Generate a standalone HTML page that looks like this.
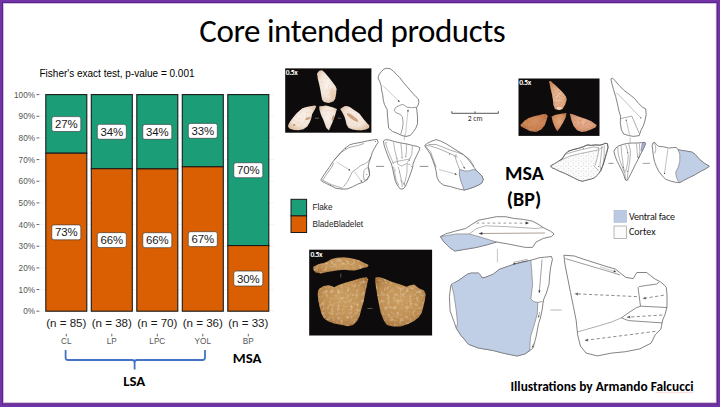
<!DOCTYPE html>
<html><head><meta charset="utf-8">
<style>
html,body{margin:0;padding:0;background:#fff;}
body{width:720px;height:407px;overflow:hidden;position:relative;}
svg{position:absolute;left:0;top:0;}
.ax{font-family:"Liberation Sans",Arial,sans-serif;font-size:8.2px;fill:#555;}
.lb{font-family:"Liberation Sans",Arial,sans-serif;font-size:11.4px;fill:#1a1a1a;}
.nn{font-family:"Liberation Sans",Arial,sans-serif;font-size:11.6px;fill:#1a1a1a;}
.lg{font-family:"Liberation Sans",Arial,sans-serif;font-size:8.2px;fill:#1a1a1a;}
.cal{font-family:Carlito,Calibri,"Liberation Sans",sans-serif;}
</style></head><body>
<svg width="720" height="407" viewBox="0 0 720 407">
<defs>
<radialGradient id="gA" cx="50%" cy="45%" r="60%">
<stop offset="0" stop-color="#FAF3EE"/><stop offset="0.65" stop-color="#F2E4D8"/><stop offset="1" stop-color="#DDBFA4"/>
</radialGradient>
<radialGradient id="gB" cx="50%" cy="45%" r="60%">
<stop offset="0" stop-color="#E8AC7E"/><stop offset="0.6" stop-color="#D88E60"/><stop offset="1" stop-color="#B4693E"/>
</radialGradient>
<radialGradient id="gC" cx="50%" cy="45%" r="65%">
<stop offset="0" stop-color="#CC9E60"/><stop offset="0.6" stop-color="#C08F52"/><stop offset="1" stop-color="#A06A32"/>
</radialGradient>
<radialGradient id="gB1" cx="50%" cy="55%" r="60%">
<stop offset="0" stop-color="#F0C6A4"/><stop offset="0.6" stop-color="#E4AA84"/><stop offset="1" stop-color="#C98458"/>
</radialGradient>
<radialGradient id="gB2" cx="50%" cy="45%" r="60%">
<stop offset="0" stop-color="#D88C58"/><stop offset="0.6" stop-color="#CB7C4A"/><stop offset="1" stop-color="#B0643A"/>
</radialGradient>
<radialGradient id="gB4" cx="50%" cy="45%" r="60%">
<stop offset="0" stop-color="#EDB394"/><stop offset="0.6" stop-color="#E2A080"/><stop offset="1" stop-color="#C88460"/>
</radialGradient>
<pattern id="stip" width="5" height="5" patternUnits="userSpaceOnUse">
<rect width="5" height="5" fill="#FBFBFB"/><circle cx="1" cy="1.2" r="0.42" fill="#999"/><circle cx="3.6" cy="3.4" r="0.38" fill="#a5a5a5"/><circle cx="3.2" cy="0.6" r="0.3" fill="#bbb"/>
</pattern>
<filter id="soft" x="-50%" y="-50%" width="200%" height="200%"><feGaussianBlur stdDeviation="0.7"/></filter>
<filter id="tex" x="0" y="0" width="100%" height="100%">
<feTurbulence type="fractalNoise" baseFrequency="0.32" numOctaves="3" seed="4" result="n"/>
<feColorMatrix in="n" type="matrix" values="0 0 0 0 0.84  0 0 0 0 0.69  0 0 0 0 0.45  1.3 0 0 0 -0.62" result="lt"/>
<feColorMatrix in="n" type="matrix" values="0 0 0 0 0.5  0 0 0 0 0.33  0 0 0 0 0.15  -1.3 0 0 0 0.6" result="dk"/>
<feMerge result="m"><feMergeNode in="lt"/><feMergeNode in="dk"/></feMerge>
<feGaussianBlur in="m" stdDeviation="0.35" result="mb"/>
<feComposite in="mb" in2="SourceGraphic" operator="in" result="spk2"/>
<feMerge><feMergeNode in="SourceGraphic"/><feMergeNode in="spk2"/></feMerge>
</filter>
<filter id="tex2" x="0" y="0" width="100%" height="100%">
<feTurbulence type="fractalNoise" baseFrequency="0.5" numOctaves="2" seed="7" result="n"/>
<feColorMatrix in="n" type="matrix" values="0 0 0 0 0.85  0 0 0 0 0.62  0 0 0 0 0.45  0 0 0 -2 1.05" result="spk"/>
<feComposite in="spk" in2="SourceGraphic" operator="in" result="spk2"/>
<feMerge><feMergeNode in="SourceGraphic"/><feMergeNode in="spk2"/></feMerge>
</filter>
<filter id="tex3" x="0" y="0" width="100%" height="100%">
<feTurbulence type="fractalNoise" baseFrequency="0.45" numOctaves="2" seed="11" result="n"/>
<feColorMatrix in="n" type="matrix" values="0 0 0 0 0.55  0 0 0 0 0.3  0 0 0 0 0.16  0 0 0 -2.2 1.3" result="spk"/>
<feComposite in="spk" in2="SourceGraphic" operator="in" result="spk2"/>
<feMerge><feMergeNode in="SourceGraphic"/><feMergeNode in="spk2"/></feMerge>
</filter>
</defs>

<rect x="0" y="0" width="720" height="407" fill="#7233A7"/>
<rect x="2" y="2" width="715.8" height="402.2" fill="#5C2386"/>
<rect x="3" y="3" width="713.6" height="400.2" fill="#C9B2DD"/>
<rect x="3.8" y="3.8" width="712" height="398.4" fill="#fff"/>
<text x="199.3" y="41.9" class="cal" font-size="33" letter-spacing="-0.45" fill="#000" textLength="305.97" lengthAdjust="spacingAndGlyphs">Core intended products</text>
<text x="39.5" y="76.6" font-family="Liberation Sans, Arial, sans-serif" font-size="10" fill="#000" textLength="155.05" lengthAdjust="spacingAndGlyphs">Fisher's exact test, p-value = 0.001</text>
<line x1="39.5" y1="311.20" x2="274" y2="311.20" stroke="#EDEDED" stroke-width="0.6"/>
<line x1="39.5" y1="289.54" x2="274" y2="289.54" stroke="#EDEDED" stroke-width="0.6"/>
<line x1="39.5" y1="267.88" x2="274" y2="267.88" stroke="#EDEDED" stroke-width="0.6"/>
<line x1="39.5" y1="246.22" x2="274" y2="246.22" stroke="#EDEDED" stroke-width="0.6"/>
<line x1="39.5" y1="224.56" x2="274" y2="224.56" stroke="#EDEDED" stroke-width="0.6"/>
<line x1="39.5" y1="202.90" x2="274" y2="202.90" stroke="#EDEDED" stroke-width="0.6"/>
<line x1="39.5" y1="181.24" x2="274" y2="181.24" stroke="#EDEDED" stroke-width="0.6"/>
<line x1="39.5" y1="159.58" x2="274" y2="159.58" stroke="#EDEDED" stroke-width="0.6"/>
<line x1="39.5" y1="137.92" x2="274" y2="137.92" stroke="#EDEDED" stroke-width="0.6"/>
<line x1="39.5" y1="116.26" x2="274" y2="116.26" stroke="#EDEDED" stroke-width="0.6"/>
<line x1="39.5" y1="94.60" x2="274" y2="94.60" stroke="#EDEDED" stroke-width="0.6"/>
<line x1="39.5" y1="300.37" x2="274" y2="300.37" stroke="#F5F5F5" stroke-width="0.4"/>
<line x1="39.5" y1="278.71" x2="274" y2="278.71" stroke="#F5F5F5" stroke-width="0.4"/>
<line x1="39.5" y1="257.05" x2="274" y2="257.05" stroke="#F5F5F5" stroke-width="0.4"/>
<line x1="39.5" y1="235.39" x2="274" y2="235.39" stroke="#F5F5F5" stroke-width="0.4"/>
<line x1="39.5" y1="213.73" x2="274" y2="213.73" stroke="#F5F5F5" stroke-width="0.4"/>
<line x1="39.5" y1="192.07" x2="274" y2="192.07" stroke="#F5F5F5" stroke-width="0.4"/>
<line x1="39.5" y1="170.41" x2="274" y2="170.41" stroke="#F5F5F5" stroke-width="0.4"/>
<line x1="39.5" y1="148.75" x2="274" y2="148.75" stroke="#F5F5F5" stroke-width="0.4"/>
<line x1="39.5" y1="127.09" x2="274" y2="127.09" stroke="#F5F5F5" stroke-width="0.4"/>
<line x1="39.5" y1="105.43" x2="274" y2="105.43" stroke="#F5F5F5" stroke-width="0.4"/>
<line x1="36.5" y1="311.20" x2="39.3" y2="311.20" stroke="#555" stroke-width="0.9"/>
<text x="35" y="314.20" text-anchor="end" class="ax" textLength="11.84" lengthAdjust="spacingAndGlyphs">0%</text>
<line x1="36.5" y1="289.54" x2="39.3" y2="289.54" stroke="#555" stroke-width="0.9"/>
<text x="35" y="292.54" text-anchor="end" class="ax" textLength="16.39" lengthAdjust="spacingAndGlyphs">10%</text>
<line x1="36.5" y1="267.88" x2="39.3" y2="267.88" stroke="#555" stroke-width="0.9"/>
<text x="35" y="270.88" text-anchor="end" class="ax" textLength="16.39" lengthAdjust="spacingAndGlyphs">20%</text>
<line x1="36.5" y1="246.22" x2="39.3" y2="246.22" stroke="#555" stroke-width="0.9"/>
<text x="35" y="249.22" text-anchor="end" class="ax" textLength="16.39" lengthAdjust="spacingAndGlyphs">30%</text>
<line x1="36.5" y1="224.56" x2="39.3" y2="224.56" stroke="#555" stroke-width="0.9"/>
<text x="35" y="227.56" text-anchor="end" class="ax" textLength="16.39" lengthAdjust="spacingAndGlyphs">40%</text>
<line x1="36.5" y1="202.90" x2="39.3" y2="202.90" stroke="#555" stroke-width="0.9"/>
<text x="35" y="205.90" text-anchor="end" class="ax" textLength="16.39" lengthAdjust="spacingAndGlyphs">50%</text>
<line x1="36.5" y1="181.24" x2="39.3" y2="181.24" stroke="#555" stroke-width="0.9"/>
<text x="35" y="184.24" text-anchor="end" class="ax" textLength="16.39" lengthAdjust="spacingAndGlyphs">60%</text>
<line x1="36.5" y1="159.58" x2="39.3" y2="159.58" stroke="#555" stroke-width="0.9"/>
<text x="35" y="162.58" text-anchor="end" class="ax" textLength="16.39" lengthAdjust="spacingAndGlyphs">70%</text>
<line x1="36.5" y1="137.92" x2="39.3" y2="137.92" stroke="#555" stroke-width="0.9"/>
<text x="35" y="140.92" text-anchor="end" class="ax" textLength="16.39" lengthAdjust="spacingAndGlyphs">80%</text>
<line x1="36.5" y1="116.26" x2="39.3" y2="116.26" stroke="#555" stroke-width="0.9"/>
<text x="35" y="119.26" text-anchor="end" class="ax" textLength="16.39" lengthAdjust="spacingAndGlyphs">90%</text>
<line x1="36.5" y1="94.60" x2="39.3" y2="94.60" stroke="#555" stroke-width="0.9"/>
<text x="35" y="97.60" text-anchor="end" class="ax" textLength="20.95" lengthAdjust="spacingAndGlyphs">100%</text>
<rect x="45.80" y="94.6" width="41" height="58.61" fill="#1B9E77" stroke="#1a1a1a" stroke-width="1.1"/>
<rect x="45.80" y="153.21" width="41" height="157.99" fill="#D95F02" stroke="#1a1a1a" stroke-width="1.1"/>
<rect x="51.80" y="116.60" width="29" height="14.9" rx="2.2" fill="#fff" stroke="#333" stroke-width="0.6"/>
<text x="66.30" y="128.10" text-anchor="middle" class="lb" textLength="22.81" lengthAdjust="spacingAndGlyphs">27%</text>
<rect x="51.80" y="224.90" width="29" height="14.9" rx="2.2" fill="#fff" stroke="#333" stroke-width="0.6"/>
<text x="66.30" y="236.40" text-anchor="middle" class="lb" textLength="22.81" lengthAdjust="spacingAndGlyphs">73%</text>
<text x="66.30" y="327.2" text-anchor="middle" class="nn" textLength="40.28" lengthAdjust="spacingAndGlyphs">(n = 85)</text>
<line x1="66.30" y1="333.8" x2="66.30" y2="336.4" stroke="#555" stroke-width="0.9"/>
<text x="66.30" y="344.3" text-anchor="middle" class="ax" textLength="10.47" lengthAdjust="spacingAndGlyphs">CL</text>
<rect x="91.30" y="94.6" width="41" height="74.10" fill="#1B9E77" stroke="#1a1a1a" stroke-width="1.1"/>
<rect x="91.30" y="168.70" width="41" height="142.50" fill="#D95F02" stroke="#1a1a1a" stroke-width="1.1"/>
<rect x="97.30" y="124.35" width="29" height="14.9" rx="2.2" fill="#fff" stroke="#333" stroke-width="0.6"/>
<text x="111.80" y="135.85" text-anchor="middle" class="lb" textLength="22.81" lengthAdjust="spacingAndGlyphs">34%</text>
<rect x="97.30" y="232.65" width="29" height="14.9" rx="2.2" fill="#fff" stroke="#333" stroke-width="0.6"/>
<text x="111.80" y="244.15" text-anchor="middle" class="lb" textLength="22.81" lengthAdjust="spacingAndGlyphs">66%</text>
<text x="111.80" y="327.2" text-anchor="middle" class="nn" textLength="40.28" lengthAdjust="spacingAndGlyphs">(n = 38)</text>
<line x1="111.80" y1="333.8" x2="111.80" y2="336.4" stroke="#555" stroke-width="0.9"/>
<text x="111.80" y="344.3" text-anchor="middle" class="ax" textLength="10.02" lengthAdjust="spacingAndGlyphs">LP</text>
<rect x="136.80" y="94.6" width="41" height="74.26" fill="#1B9E77" stroke="#1a1a1a" stroke-width="1.1"/>
<rect x="136.80" y="168.86" width="41" height="142.34" fill="#D95F02" stroke="#1a1a1a" stroke-width="1.1"/>
<rect x="142.80" y="124.43" width="29" height="14.9" rx="2.2" fill="#fff" stroke="#333" stroke-width="0.6"/>
<text x="157.30" y="135.93" text-anchor="middle" class="lb" textLength="22.81" lengthAdjust="spacingAndGlyphs">34%</text>
<rect x="142.80" y="232.73" width="29" height="14.9" rx="2.2" fill="#fff" stroke="#333" stroke-width="0.6"/>
<text x="157.30" y="244.23" text-anchor="middle" class="lb" textLength="22.81" lengthAdjust="spacingAndGlyphs">66%</text>
<text x="157.30" y="327.2" text-anchor="middle" class="nn" textLength="40.28" lengthAdjust="spacingAndGlyphs">(n = 70)</text>
<line x1="157.30" y1="333.8" x2="157.30" y2="336.4" stroke="#555" stroke-width="0.9"/>
<text x="157.30" y="344.3" text-anchor="middle" class="ax" textLength="15.94" lengthAdjust="spacingAndGlyphs">LPC</text>
<rect x="182.30" y="94.6" width="41" height="72.20" fill="#1B9E77" stroke="#1a1a1a" stroke-width="1.1"/>
<rect x="182.30" y="166.80" width="41" height="144.40" fill="#D95F02" stroke="#1a1a1a" stroke-width="1.1"/>
<rect x="188.30" y="123.40" width="29" height="14.9" rx="2.2" fill="#fff" stroke="#333" stroke-width="0.6"/>
<text x="202.80" y="134.90" text-anchor="middle" class="lb" textLength="22.81" lengthAdjust="spacingAndGlyphs">33%</text>
<rect x="188.30" y="231.70" width="29" height="14.9" rx="2.2" fill="#fff" stroke="#333" stroke-width="0.6"/>
<text x="202.80" y="243.20" text-anchor="middle" class="lb" textLength="22.81" lengthAdjust="spacingAndGlyphs">67%</text>
<text x="202.80" y="327.2" text-anchor="middle" class="nn" textLength="40.28" lengthAdjust="spacingAndGlyphs">(n = 36)</text>
<line x1="202.80" y1="333.8" x2="202.80" y2="336.4" stroke="#555" stroke-width="0.9"/>
<text x="202.80" y="344.3" text-anchor="middle" class="ax" textLength="16.39" lengthAdjust="spacingAndGlyphs">YOL</text>
<rect x="227.80" y="94.6" width="41" height="150.96" fill="#1B9E77" stroke="#1a1a1a" stroke-width="1.1"/>
<rect x="227.80" y="245.56" width="41" height="65.64" fill="#D95F02" stroke="#1a1a1a" stroke-width="1.1"/>
<rect x="233.80" y="162.78" width="29" height="14.9" rx="2.2" fill="#fff" stroke="#333" stroke-width="0.6"/>
<text x="248.30" y="174.28" text-anchor="middle" class="lb" textLength="22.81" lengthAdjust="spacingAndGlyphs">70%</text>
<rect x="233.80" y="271.08" width="29" height="14.9" rx="2.2" fill="#fff" stroke="#333" stroke-width="0.6"/>
<text x="248.30" y="282.58" text-anchor="middle" class="lb" textLength="22.81" lengthAdjust="spacingAndGlyphs">30%</text>
<text x="248.30" y="327.2" text-anchor="middle" class="nn" textLength="40.28" lengthAdjust="spacingAndGlyphs">(n = 33)</text>
<line x1="248.30" y1="333.8" x2="248.30" y2="336.4" stroke="#555" stroke-width="0.9"/>
<text x="248.30" y="344.3" text-anchor="middle" class="ax" textLength="10.94" lengthAdjust="spacingAndGlyphs">BP</text>
<rect x="285.2" y="68.4" width="86.19999999999999" height="64.29999999999998" fill="#0d0b0b"/>
<text x="285.8" y="75.1" font-family="Carlito,'Liberation Sans',sans-serif" font-size="7.6" font-weight="700" letter-spacing="-0.45" fill="#fff" textLength="11.42" lengthAdjust="spacingAndGlyphs">0.5x</text>
<path d="M317.0,73.6 L319.3,70.8 L322.1,70.3 L324.9,72.7 L328.7,77.3 L332.4,82.0 L335.2,85.7 L336.6,88.5 L336.1,94.1 L335.2,98.8 L333.3,101.6 L328.7,103.0 L324.0,102.0 L322.1,99.7 L321.2,95.1 L320.3,89.5 L319.3,84.8 L317.9,79.2 Z" fill="url(#gA)" stroke="none" stroke-width="0.6" stroke-linejoin="round" filter="url(#tex2)"/>
<path d="M288.0,125.6 L289.9,121.7 L293.1,117.4 L296.2,113.8 L299.4,110.7 L302.5,108.3 L306.5,107.1 L310.4,106.3 L314.3,105.5 L316.3,105.9 L315.5,108.3 L313.6,111.4 L312.0,114.6 L311.2,118.5 L309.6,122.5 L307.3,126.4 L303.3,129.2 L298.6,130.3 L293.9,130.0 L289.9,128.8 L288.4,127.2 Z" fill="url(#gA)" stroke="none" stroke-width="0.6" stroke-linejoin="round" filter="url(#tex2)"/>
<path d="M319.2,106.5 L326.2,105.6 L333.3,107.4 L336.9,109.1 L335.1,115.3 L332.4,122.4 L328.9,130.4 L326.2,127.7 L323.6,120.6 L320.9,114.4 L319.5,110.0 Z" fill="url(#gA)" stroke="none" stroke-width="0.6" stroke-linejoin="round" filter="url(#tex2)"/>
<path d="M340.3,109.1 L342.3,107.5 L344.6,106.3 L347.0,105.9 L349.8,107.1 L353.3,109.5 L356.4,111.4 L359.6,113.8 L361.9,116.9 L364.3,120.1 L367.1,123.2 L369.4,125.6 L369.0,127.9 L365.9,129.5 L361.9,130.3 L357.2,130.3 L352.5,129.5 L348.6,127.9 L346.6,124.8 L345.8,120.9 L344.6,116.9 L342.7,113.0 L341.1,110.6 Z" fill="url(#gA)" stroke="none" stroke-width="0.6" stroke-linejoin="round" filter="url(#tex2)"/>
<g fill="#B8733C" opacity="0.6" filter="url(#soft)"><ellipse cx="308" cy="118.5" rx="3" ry="1.2" transform="rotate(-20 308 118.5)"/><ellipse cx="294.2" cy="125" rx="1.4" ry="0.9"/><ellipse cx="352.5" cy="117.5" rx="7" ry="1.8" transform="rotate(35 352.5 117.5)"/><ellipse cx="333" cy="118" rx="1" ry="3.2" transform="rotate(15 333 118)"/><ellipse cx="332" cy="93" rx="2.5" ry="5" fill="#E8B890" opacity="0.7"/></g>
<line x1="314.8" y1="118.2" x2="319" y2="118.2" stroke="#777" stroke-width="0.8" />
<line x1="337.8" y1="118.2" x2="341.3" y2="118.2" stroke="#777" stroke-width="0.8" />
<rect x="518.5" y="78.5" width="81.0" height="57.400000000000006" fill="#0d0b0b"/>
<text x="519.3" y="84.9" font-family="Carlito,'Liberation Sans',sans-serif" font-size="7.6" font-weight="700" letter-spacing="-0.45" fill="#fff" textLength="11.42" lengthAdjust="spacingAndGlyphs">0.5x</text>
<path d="M549.2,80.9 L550.9,81.3 L556.7,86.4 L562.6,92.2 L565.9,96.4 L566.7,99.7 L565.1,104.7 L562.6,108.9 L559.2,110.2 L555.0,108.9 L553.4,104.7 L552.9,99.7 L552.1,94.7 L550.4,88.0 Z" fill="url(#gB1)" stroke="none" stroke-width="0.6" stroke-linejoin="round" filter="url(#tex3)"/>
<path d="M520.3,125.1 L524.8,120.5 L529.4,117.7 L535.1,116.0 L540.8,114.8 L545.9,113.7 L547.6,116.0 L546.5,120.5 L544.8,125.1 L541.9,129.1 L536.2,131.9 L530.5,131.3 L526.0,129.1 L521.4,126.8 Z" fill="url(#gB2)" stroke="none" stroke-width="0.6" stroke-linejoin="round" filter="url(#tex3)"/>
<path d="M551.6,116.5 L555.6,114.8 L561.3,113.7 L566.4,113.1 L565.8,117.1 L563.0,122.8 L560.1,127.4 L557.3,131.3 L555.0,127.4 L552.7,121.7 Z" fill="url(#gB)" stroke="none" stroke-width="0.6" stroke-linejoin="round" filter="url(#tex3)"/>
<path d="M569.8,113.7 L572.7,114.3 L578.4,116.5 L585.2,118.8 L590.9,121.1 L596.6,125.1 L595.4,127.4 L590.9,129.6 L586.3,131.3 L581.8,131.9 L577.2,130.2 L573.8,126.2 L571.5,120.5 Z" fill="url(#gB4)" stroke="none" stroke-width="0.6" stroke-linejoin="round" filter="url(#tex3)"/>
<ellipse cx="559.3" cy="108.3" rx="2.6" ry="1.2" fill="#fff" opacity="0.6" filter="url(#soft)"/>
<rect x="309.2" y="249.7" width="122.90000000000003" height="85.80000000000001" fill="#0d0b0b"/>
<text x="310.6" y="256.7" font-family="Carlito,'Liberation Sans',sans-serif" font-size="7.6" font-weight="700" letter-spacing="-0.45" fill="#fff" textLength="11.42" lengthAdjust="spacingAndGlyphs">0.5x</text>
<path d="M313.1,267.0 L318.2,264.2 L324.6,262.8 L328.3,261.0 L331.0,259.2 L336.5,257.8 L343.9,257.3 L351.2,258.3 L358.5,260.1 L364.0,262.8 L368.6,265.1 L367.7,267.0 L363.1,267.9 L359.5,269.3 L354.9,270.6 L349.4,270.2 L343.9,269.7 L336.5,270.6 L327.3,272.0 L320.9,273.4 L315.4,272.5 L313.6,270.2 Z" fill="url(#gC)" stroke="none" stroke-width="0.6" stroke-linejoin="round" filter="url(#tex)"/>
<path d="M318.0,290.8 L319.6,288.4 L323.6,286.0 L328.4,285.2 L331.6,286.0 L334.0,287.3 L338.0,285.2 L345.1,282.8 L353.1,280.4 L361.1,278.0 L366.7,277.2 L368.3,279.6 L366.7,286.0 L365.1,294.0 L363.5,302.0 L361.1,309.9 L359.5,316.3 L357.1,321.1 L353.1,325.1 L348.3,326.2 L341.9,325.1 L334.0,323.5 L327.6,321.1 L323.6,317.9 L321.2,313.1 L319.6,306.7 L318.3,300.4 L317.7,294.8 Z" fill="url(#gC)" stroke="none" stroke-width="0.6" stroke-linejoin="round" filter="url(#tex)"/>
<path d="M375.3,277.6 L379.1,276.9 L385.2,279.1 L392.9,282.2 L400.5,284.5 L406.6,286.8 L410.4,285.2 L414.2,284.5 L418.8,288.3 L424.1,290.6 L425.6,294.4 L424.9,300.5 L423.4,306.6 L421.8,312.7 L418.8,317.3 L414.2,321.1 L408.1,324.1 L400.5,326.4 L392.9,326.4 L386.8,324.9 L383.7,320.3 L380.7,312.7 L379.1,305.1 L377.6,297.4 L376.1,288.3 L375.3,282.2 Z" fill="url(#gC)" stroke="none" stroke-width="0.6" stroke-linejoin="round" filter="url(#tex)"/>
<line x1="340.8" y1="273.5" x2="340.8" y2="277.5" stroke="#888" stroke-width="0.6" />
<line x1="367.5" y1="308.5" x2="372.5" y2="308.5" stroke="#888" stroke-width="0.6" />
<path d="M378.3,76.4 L379.4,74.2 L381.6,71.3 L383.9,69.1 L386.7,68.3 L390.1,68.7 L393.0,70.8 L396.3,74.2 L399.7,77.6 L403.1,82.1 L406.5,86.0 L409.9,90.0 L413.3,93.9 L416.1,96.8 L418.4,99.0 L418.9,102.4 L417.8,105.8 L416.4,107.5 L416.9,110.5 L417.5,117.1 L417.5,123.8 L415.8,128.2 L413.6,131.5 L410.3,135.4 L405.9,136.5 L401.4,135.4 L398.1,133.7 L392.6,131.5 L388.7,128.2 L388.2,123.8 L387.6,117.1 L387.1,109.4 L384.5,104.7 L383.3,100.2 L382.8,95.6 L381.6,90.0 L381.1,85.5 L380.0,82.1 L378.3,78.7 Z" fill="#fff" stroke="#5a5a5a" stroke-width="0.75" stroke-linejoin="round" />
<path d="M394.3,110.5 L395.4,107.7 L399.2,105.5 L403.1,104.4 L405.3,106.1 L407.0,107.2 L411.4,107.7 L416.4,107.2" fill="none" stroke="#5a5a5a" stroke-width="0.6" stroke-linejoin="round" />
<path d="M394.3,110.5 L395.9,112.7 L400.3,114.4 L402.5,117.1 L403.1,122.7 L402.5,128.2 L400.9,133.7 L399.8,134.8" fill="none" stroke="#5a5a5a" stroke-width="0.6" stroke-linejoin="round" />
<line x1="382.8" y1="85.5" x2="399.7" y2="101.9" stroke="#777" stroke-width="0.4" />
<path d="M399.7,101.9 L398.9,99.9 L397.6,101.2 Z" fill="#333"/>
<line x1="405.3" y1="136.5" x2="408.1" y2="109.4" stroke="#777" stroke-width="0.4" />
<path d="M408.1,109.4 L407.0,111.3 L408.8,111.5 Z" fill="#333"/>
<path d="M320.8,180.0 L324.2,174.5 L329.0,167.6 L333.1,161.4 L337.3,156.6 L340.7,152.5 L344.8,148.4 L349.6,144.9 L353.8,143.6 L357.9,142.9 L362.0,142.2 L367.5,140.8 L373.0,139.9 L377.1,139.4 L378.2,142.2 L376.5,144.9 L374.4,148.4 L372.3,152.5 L371.0,156.6 L369.6,160.8 L368.2,165.6 L368.9,170.4 L369.6,175.2 L366.8,180.0 L363.4,182.1 L357.9,184.1 L352.4,186.9 L346.9,189.0 L341.4,189.0 L335.9,188.3 L331.8,186.2 L326.3,183.5 L322.1,181.4 Z" fill="#fff" stroke="#5a5a5a" stroke-width="0.75" stroke-linejoin="round" />
<path d="M334.0,160.0 L341.0,152.5 L349.0,147.5 L357.9,145.5 L364.0,143.5" fill="none" stroke="#5a5a5a" stroke-width="0.5" stroke-linejoin="round" />
<path d="M322.8,180.0 L326.9,173.8 L331.8,167.0 L333.8,162.8" fill="none" stroke="#5a5a5a" stroke-width="0.5" stroke-linejoin="round" />
<path d="M322.1,180.0 L331.8,184.8 L342.8,188.3" fill="none" stroke="#5a5a5a" stroke-width="0.5" stroke-linejoin="round" />
<path d="M343.4,186.9 L347.6,181.4 L350.3,175.9 L352.4,171.8 L356.5,169.0 L360.6,165.6 L365.5,163.5 L368.9,160.8 L371.0,156.6" fill="none" stroke="#5a5a5a" stroke-width="0.5" stroke-linejoin="round" />
<path d="M363.4,175.9 L364.1,170.4 L366.8,167.6 L369.2,169.0 L369.6,175.2 L366.8,180.0 L364.1,180.0 L363.4,175.9" fill="none" stroke="#5a5a5a" stroke-width="0.5" stroke-linejoin="round" />
<line x1="336.6" y1="162.1" x2="350.3" y2="170.4" stroke="#777" stroke-width="0.4" />
<path d="M350.3,170.4 L349.2,168.8 L348.3,170.2 Z" fill="#333"/>
<line x1="354.5" y1="171.8" x2="362.0" y2="182.1" stroke="#777" stroke-width="0.4" />
<path d="M362.0,182.1 L361.6,180.2 L360.3,181.1 Z" fill="#333"/>
<circle cx="375.5" cy="141.5" r="0.5" fill="#555"/>
<circle cx="345.5" cy="148.5" r="0.5" fill="#555"/>
<circle cx="366.8" cy="174.5" r="0.5" fill="#555"/>
<circle cx="330.5" cy="185" r="0.5" fill="#555"/>
<path d="M383.4,141.1 L385.4,139.7 L389.5,140.0 L394.9,141.7 L401.6,143.1 L407.0,144.0 L412.4,145.4 L417.8,146.5 L419.9,147.8 L419.2,150.5 L417.8,153.2 L416.5,155.9 L414.5,160.0 L413.1,164.0 L412.4,168.1 L411.1,172.1 L409.1,177.5 L407.0,182.9 L405.0,187.0 L403.0,189.0 L400.3,189.0 L397.6,185.6 L395.5,181.6 L394.2,176.2 L392.8,169.4 L391.5,164.0 L389.5,160.0 L387.4,154.6 L385.4,149.2 L384.1,145.1 Z" fill="#fff" stroke="#5a5a5a" stroke-width="0.75" stroke-linejoin="round" />
<path d="M385.4,142.4 L387.4,149.2 L390.1,155.9 L392.2,160.6 L393.5,164.0" fill="none" stroke="#5a5a5a" stroke-width="0.45" stroke-linejoin="round" />
<path d="M393.5,142.4 L394.9,150.5 L396.9,158.6 L397.6,164.0" fill="none" stroke="#5a5a5a" stroke-width="0.45" stroke-linejoin="round" />
<path d="M400.9,143.1 L401.6,150.5 L402.3,158.6" fill="none" stroke="#5a5a5a" stroke-width="0.45" stroke-linejoin="round" />
<path d="M406.4,144.4 L406.4,151.9 L405.7,157.3" fill="none" stroke="#5a5a5a" stroke-width="0.45" stroke-linejoin="round" />
<path d="M412.4,145.8 L411.8,154.6 L409.1,160.0 L407.0,162.7" fill="none" stroke="#5a5a5a" stroke-width="0.45" stroke-linejoin="round" />
<path d="M392.8,162.7 L397.6,161.3 L404.3,160.0 L408.4,159.3 L410.4,158.6" fill="none" stroke="#5a5a5a" stroke-width="0.45" stroke-linejoin="round" />
<path d="M397.6,164.0 L401.6,166.1 L407.0,163.4 L410.5,165.0" fill="none" stroke="#5a5a5a" stroke-width="0.45" stroke-linejoin="round" />
<path d="M398.2,166.7 L400.3,174.8 L401.6,181.6 L402.3,187.0" fill="none" stroke="#5a5a5a" stroke-width="0.45" stroke-linejoin="round" />
<path d="M407.0,164.0 L407.0,172.1 L405.7,178.9 L404.3,184.3" fill="none" stroke="#5a5a5a" stroke-width="0.45" stroke-linejoin="round" />
<path d="M393.5,166.7 L394.9,173.5 L396.2,180.2 L398.9,185.6" fill="none" stroke="#5a5a5a" stroke-width="0.45" stroke-linejoin="round" />
<path d="M400.3,180.2 L403.6,183.0 L405.0,186.0" fill="none" stroke="#5a5a5a" stroke-width="0.45" stroke-linejoin="round" />
<circle cx="386.5" cy="142.5" r="0.45" fill="#555"/>
<circle cx="397" cy="158.5" r="0.45" fill="#555"/>
<circle cx="401.9" cy="157.5" r="0.45" fill="#555"/>
<circle cx="405.8" cy="156.5" r="0.45" fill="#555"/>
<circle cx="409.5" cy="160.5" r="0.45" fill="#555"/>
<circle cx="411.5" cy="166.5" r="0.45" fill="#555"/>
<circle cx="395.5" cy="170" r="0.45" fill="#555"/>
<circle cx="399.5" cy="172" r="0.45" fill="#555"/>
<circle cx="404" cy="184" r="0.45" fill="#555"/>
<line x1="376.0" y1="166.4" x2="384.2" y2="166.4" stroke="#9a9a9a" stroke-width="1.1" />
<line x1="419.6" y1="166.4" x2="428.4" y2="166.4" stroke="#9a9a9a" stroke-width="1.1" />
<line x1="404.3" y1="134.5" x2="404.3" y2="140.2" stroke="#9a9a9a" stroke-width="0.6" />
<path d="M424.8,145.3 L427.7,143.1 L432.0,141.0 L436.2,139.6 L440.5,141.0 L446.2,143.8 L451.9,147.4 L457.6,151.0 L463.3,154.5 L467.6,158.8 L471.1,163.1 L474.0,167.3 L476.1,170.2 L479.0,173.0 L481.8,175.9 L483.3,179.4 L481.8,183.0 L478.3,185.1 L473.3,187.3 L469.0,188.7 L464.0,190.1 L457.6,188.7 L450.5,186.6 L443.4,185.1 L439.1,181.6 L437.0,177.3 L436.2,171.6 L434.8,165.9 L432.7,160.2 L430.5,154.5 L427.7,150.2 L425.6,147.4 Z" fill="#fff" stroke="#5a5a5a" stroke-width="0.75" stroke-linejoin="round" />
<path d="M459.7,169.5 L464.7,170.9 L469.0,170.9 L473.3,169.5 L476.1,170.2 L479.0,173.0 L481.8,175.9 L483.3,179.4 L481.8,183.0 L478.3,185.1 L473.3,187.3 L469.0,188.7 L464.0,190.1 L462.6,185.9 L460.5,180.2 L459.3,174.5 Z" fill="#C1CFE6" stroke="#5a5a5a" stroke-width="0.55" stroke-linejoin="round" />
<path d="M425.6,145.3 L430.5,146.0 L439.1,148.8 L449.1,153.1 L454.8,155.9 L457.6,157.4" fill="none" stroke="#5a5a5a" stroke-width="0.5" stroke-linejoin="round" />
<path d="M428.4,144.5 L436.2,144.5 L450.5,150.2 L457.6,152.4 L463.3,154.5 L470.4,160.2 L474.0,166.6" fill="none" stroke="#5a5a5a" stroke-width="0.5" stroke-linejoin="round" />
<path d="M454.8,155.9 L456.2,160.2 L457.6,164.5 L459.7,169.5" fill="none" stroke="#5a5a5a" stroke-width="0.5" stroke-linejoin="round" />
<path d="M425.6,146.0 L428.4,149.5 L430.5,151.7 L434.1,161.6 L436.2,167.3" fill="none" stroke="#5a5a5a" stroke-width="0.5" stroke-linejoin="round" />
<line x1="460.5" y1="160.2" x2="464.7" y2="168.8" stroke="#777" stroke-width="0.4" />
<path d="M464.7,168.8 L464.6,166.8 L463.2,167.5 Z" fill="#333"/>
<line x1="439.1" y1="169.5" x2="456.9" y2="174.5" stroke="#777" stroke-width="0.4" />
<path d="M456.9,174.5 L455.2,173.1 L454.7,174.8 Z" fill="#333"/>
<circle cx="449.5" cy="154" r="0.55" fill="#444"/>
<circle cx="456" cy="155" r="0.55" fill="#444"/>
<path d="M451.8,111.2 V113.3 H498.3 V111.2 M475,111.4 V113.3" fill="none" stroke="#444" stroke-width="0.9"/>
<text x="467.8" y="120.5" font-family="Carlito,Liberation Sans,sans-serif" font-size="7.6" fill="#333" textLength="14.84" lengthAdjust="spacingAndGlyphs">2 cm</text>
<path d="M610.9,78.9 L612.5,78.1 L614.9,80.5 L619.0,85.3 L623.8,90.2 L630.3,95.1 L634.4,98.3 L638.4,103.2 L642.5,107.2 L645.7,108.8 L646.2,114.5 L644.9,121.0 L643.3,125.9 L640.8,130.7 L639.2,135.6 L633.6,136.4 L628.7,135.6 L623.8,134.0 L621.4,129.9 L620.3,122.6 L620.6,116.1 L619.0,111.3 L617.3,103.2 L615.7,96.7 L613.3,88.6 L611.7,82.9 Z" fill="#fff" stroke="#5a5a5a" stroke-width="0.75" stroke-linejoin="round" />
<path d="M620.6,118.6 L631.9,116.1 L636.0,125.9 L639.2,133.2" fill="none" stroke="#5a5a5a" stroke-width="0.5" stroke-linejoin="round" />
<line x1="616.5" y1="92.6" x2="640.8" y2="117.8" stroke="#666" stroke-width="0.4" />
<circle cx="640.8" cy="117.8" r="0.6" fill="#444"/>
<line x1="626.3" y1="120.2" x2="629.5" y2="134.8" stroke="#666" stroke-width="0.4" />
<circle cx="626.3" cy="120.2" r="0.6" fill="#444"/>
<line x1="630.1" y1="137.5" x2="630.1" y2="142.8" stroke="#9a9a9a" stroke-width="0.6" />
<path d="M550.7,165.9 L554.5,163.8 L558.8,161.1 L562.1,158.9 L565.3,154.1 L568.0,151.4 L572.9,149.7 L579.4,148.1 L583.7,146.5 L587.5,144.9 L591.2,145.4 L595.6,144.9 L599.9,145.2 L603.1,144.3 L605.3,143.2 L607.5,143.8 L608.0,147.6 L606.9,151.9 L605.3,157.3 L604.2,161.6 L602.6,165.9 L601.0,170.3 L598.8,173.5 L596.6,175.7 L594.5,177.8 L591.2,178.9 L586.9,180.0 L582.6,181.1 L579.4,180.5 L575.0,178.4 L570.7,176.2 L565.3,173.5 L559.9,171.4 L555.6,169.2 L551.8,167.6 Z" fill="#fff" stroke="#5a5a5a" stroke-width="0.75" stroke-linejoin="round" />
<path d="M554.5,163.8 L558.8,161.1 L569.6,156.2 L580.4,153.5 L591.2,151.4 L598.8,149.7 L597.7,156.2 L595.6,163.8 L594.5,166.5 L598.8,170.8 L598.8,173.5 L596.6,175.7 L594.5,177.8 L591.2,178.9 L586.9,180.0 L582.6,181.1 L579.4,180.5 L575.0,178.4 L570.7,176.2 L565.3,173.5 L559.9,171.4 L555.6,169.2 L551.8,167.6 L550.7,165.9 Z" fill="url(#stip)" stroke="none" stroke-width="0.75" stroke-linejoin="round" />
<path d="M550.7,165.9 L554.5,163.8 L558.8,161.1 L562.1,158.9 L565.3,154.1 L568.0,151.4 L572.9,149.7 L579.4,148.1 L583.7,146.5 L587.5,144.9 L591.2,145.4 L595.6,144.9 L599.9,145.2 L603.1,144.3 L605.3,143.2 L607.5,143.8 L608.0,147.6 L606.9,151.9 L605.3,157.3 L604.2,161.6 L602.6,165.9 L601.0,170.3 L598.8,173.5 L596.6,175.7 L594.5,177.8 L591.2,178.9 L586.9,180.0 L582.6,181.1 L579.4,180.5 L575.0,178.4 L570.7,176.2 L565.3,173.5 L559.9,171.4 L555.6,169.2 L551.8,167.6 Z" fill="none" stroke="#5a5a5a" stroke-width="0.75" stroke-linejoin="round" />
<path d="M558.8,161.1 L569.6,156.2 L580.4,153.5 L591.2,151.4 L598.8,149.7 L603.0,146.5" fill="none" stroke="#5a5a5a" stroke-width="0.45" stroke-linejoin="round" />
<path d="M598.8,149.7 L597.7,156.2 L595.6,163.8 L594.5,166.5 L598.8,170.8" fill="none" stroke="#5a5a5a" stroke-width="0.45" stroke-linejoin="round" />
<path d="M602.0,146.5 L601.0,156.2 L599.9,165.9 L601.0,170.3" fill="none" stroke="#5a5a5a" stroke-width="0.45" stroke-linejoin="round" />
<path d="M604.2,145.4 L604.2,155.1 L603.1,164.9" fill="none" stroke="#5a5a5a" stroke-width="0.45" stroke-linejoin="round" />
<path d="M566.4,154.1 L572.9,151.9 L583.7,149.2 L593.4,147.0 L598.8,147.6" fill="none" stroke="#5a5a5a" stroke-width="0.45" stroke-linejoin="round" />
<circle cx="583.5" cy="148.3" r="0.5" fill="#555"/>
<circle cx="598.3" cy="148.2" r="0.5" fill="#555"/>
<circle cx="598.5" cy="166.6" r="0.5" fill="#555"/>
<circle cx="603.6" cy="164" r="0.5" fill="#555"/>
<line x1="608.3" y1="163.4" x2="612.8" y2="163.4" stroke="#9a9a9a" stroke-width="0.9" />
<path d="M613.9,151.3 L615.0,149.1 L617.7,146.3 L622.2,144.6 L626.6,143.5 L632.1,143.0 L637.7,143.0 L642.1,142.6 L644.8,142.4 L645.6,143.5 L644.3,146.8 L642.1,151.3 L639.9,155.7 L637.7,160.1 L635.4,164.5 L633.2,169.0 L631.0,173.4 L628.8,177.8 L627.1,180.6 L625.5,180.0 L624.4,176.7 L623.3,173.4 L621.1,169.0 L618.8,164.5 L616.6,160.1 L615.0,155.7 Z" fill="#fff" stroke="#5a5a5a" stroke-width="0.75" stroke-linejoin="round" />
<path d="M642.1,143.5 L644.8,142.4 L645.6,143.5 L644.3,146.8 L642.1,151.3 L641.0,150.7 L641.5,146.8 Z" fill="#A6AFDD" stroke="#5a5a5a" stroke-width="0.4" stroke-linejoin="round" />
<path d="M617.7,146.8 L618.3,154.6 L620.5,162.3 L622.7,167.9 L624.9,173.4 L625.5,180.0" fill="none" stroke="#5a5a5a" stroke-width="0.45" stroke-linejoin="round" />
<path d="M621.1,145.2 L621.6,153.5 L622.7,160.1 L623.3,166.8 L624.4,171.2" fill="none" stroke="#5a5a5a" stroke-width="0.45" stroke-linejoin="round" />
<path d="M625.5,144.6 L627.1,149.1 L628.3,155.7 L627.7,162.3 L626.6,167.9 L625.5,172.3" fill="none" stroke="#5a5a5a" stroke-width="0.45" stroke-linejoin="round" />
<path d="M628.8,144.1 L630.5,151.3 L629.9,160.1 L628.3,170.1 L627.7,174.5 L627.1,180.0" fill="none" stroke="#5a5a5a" stroke-width="0.45" stroke-linejoin="round" />
<path d="M636.5,143.5 L637.1,151.3 L637.7,157.9" fill="none" stroke="#5a5a5a" stroke-width="0.45" stroke-linejoin="round" />
<path d="M639.3,143.5 L639.9,151.3 L638.8,157.9" fill="none" stroke="#5a5a5a" stroke-width="0.45" stroke-linejoin="round" />
<circle cx="623.3" cy="167.3" r="0.5" fill="#555"/>
<circle cx="627.7" cy="171.2" r="0.5" fill="#555"/>
<circle cx="627.7" cy="152.4" r="0.5" fill="#555"/>
<circle cx="638.2" cy="157.5" r="0.5" fill="#555"/>
<line x1="610.0" y1="163.4" x2="613.5" y2="163.4" stroke="#9a9a9a" stroke-width="0.9" />
<line x1="642.6" y1="163.4" x2="650.0" y2="163.4" stroke="#9a9a9a" stroke-width="0.9" />
<path d="M652.7,149.8 L652.1,145.1 L653.3,142.7 L655.1,142.7 L656.3,144.5 L658.6,146.3 L663.3,146.8 L668.6,148.0 L672.8,147.7 L676.3,147.4 L678.1,149.8 L685.7,151.0 L692.2,152.2 L695.2,154.5 L699.9,159.8 L704.6,163.4 L709.3,166.3 L705.8,168.7 L701.1,171.0 L695.2,174.6 L689.3,177.5 L683.4,180.5 L679.8,182.6 L675.1,182.2 L670.4,181.0 L665.7,179.3 L662.2,175.7 L658.6,171.0 L656.3,166.3 L654.5,161.6 L653.3,155.7 Z" fill="#fff" stroke="#5a5a5a" stroke-width="0.75" stroke-linejoin="round" />
<path d="M678.1,149.8 L685.7,151.0 L692.2,152.2 L695.2,154.5 L699.9,159.8 L704.6,163.4 L709.3,166.3 L705.8,168.7 L701.1,171.0 L695.2,174.6 L689.3,177.5 L683.4,180.5 L679.8,182.6 L678.1,181.0 L676.3,176.9 L675.7,172.2 L678.1,167.5 L679.8,161.6 L679.8,154.5 Z" fill="#C1CFE6" stroke="#5a5a5a" stroke-width="0.5" stroke-linejoin="round" />
<line x1="668.0" y1="148.6" x2="664.5" y2="173.4" stroke="#666" stroke-width="0.4" />
<circle cx="664.5" cy="173.4" r="0.6" fill="#444"/>
<path d="M653.3,142.7 L655.5,145.5 L655.8,150.0 L654.8,153.5" fill="none" stroke="#5a5a5a" stroke-width="0.45" stroke-linejoin="round" />
<path d="M440.4,236.6 L445.8,233.9 L454.9,231.2 L465.7,228.5 L471.1,224.9 L478.3,220.3 L487.3,218.5 L496.4,216.7 L505.4,216.7 L514.4,218.5 L523.4,219.4 L532.5,221.2 L537.9,224.0 L543.3,227.6 L550.5,231.2 L554.1,233.9 L551.4,236.6 L543.3,238.4 L536.1,242.0 L532.5,247.4 L525.3,247.4 L516.2,245.6 L507.2,243.8 L496.4,242.0 L487.3,244.7 L476.5,247.4 L465.7,249.2 L454.9,251.0 L449.4,247.4 L444.0,242.0 Z" fill="#fff" stroke="#5a5a5a" stroke-width="0.75" stroke-linejoin="round" />
<path d="M440.4,236.6 L445.8,235.7 L456.7,233.9 L469.3,233.9 L481.9,237.5 L496.4,242.0 L487.3,244.7 L476.5,247.4 L465.7,249.2 L454.9,251.0 L449.4,247.4 L444.0,242.0 Z" fill="#C1CFE6" stroke="#5a5a5a" stroke-width="0.5" stroke-linejoin="round" />
<path d="M469.3,233.9 L476.5,228.5 L485.5,225.8 L507.2,226.7 L536.1,228.5 L543.3,227.6" fill="none" stroke="#5a5a5a" stroke-width="0.45" stroke-linejoin="round" />
<line x1="545.0" y1="233.0" x2="479.0" y2="233.5" stroke="#8a7466" stroke-width="0.7" />
<path d="M479.0,233.5 L482.4,235.0 L482.4,231.9 Z" fill="#3a3a3a"/>
<line x1="476.5" y1="223.1" x2="529.0" y2="223.1" stroke="#777" stroke-width="0.75" stroke-dasharray="2.6,2.8"/>
<path d="M529.0,223.1 L525.6,221.6 L525.6,224.6 Z" fill="#3a3a3a"/>
<line x1="497.4" y1="249.0" x2="497.4" y2="262.5" stroke="#9a9a9a" stroke-width="0.6" />
<path d="M450.9,285.3 L458.7,280.4 L467.3,274.3 L471.0,273.1 L478.4,273.1 L480.9,275.5 L482.1,278.0 L485.8,277.2 L493.1,274.3 L499.3,269.4 L510.3,265.5 L522.3,262.0 L530.9,260.3 L539.5,257.7 L544.7,257.2 L551.5,256.5 L552.4,259.5 L550.7,267.2 L549.8,274.0 L549.0,284.4 L546.4,293.0 L543.8,299.0 L543.0,303.3 L542.1,310.1 L540.4,318.0 L538.6,323.5 L536.0,337.0 L533.2,347.8 L530.0,350.5 L525.1,353.9 L517.0,356.0 L503.5,353.2 L493.1,350.5 L478.4,348.0 L468.6,344.3 L461.2,335.7 L456.3,328.3 L453.8,321.0 L450.1,311.1 L449.4,296.4 Z" fill="#fff" stroke="#5a5a5a" stroke-width="0.75" stroke-linejoin="round" />
<path d="M451.4,284.1 L458.7,280.4 L467.3,274.3 L471.0,273.1 L478.4,273.1 L480.9,275.5 L482.1,278.0 L485.8,277.2 L493.1,274.3 L499.3,269.4 L510.3,265.5 L522.3,262.0 L530.9,260.3 L531.8,272.3 L532.6,284.4 L530.9,299.0 L533.5,301.5 L537.8,302.4 L537.3,314.0 L534.6,323.5 L530.5,337.0 L529.9,346.5 L529.9,349.9 L525.1,353.9 L517.0,356.0 L503.5,353.2 L493.1,350.5 L478.4,348.0 L468.6,344.3 L461.2,335.7 L456.3,328.3 L457.5,323.4 L456.3,311.1 L453.8,294.0 Z" fill="#C1CFE6" stroke="#5a5a5a" stroke-width="0.5" stroke-linejoin="round" />
<path d="M537.8,302.4 L542.5,301.5" fill="none" stroke="#5a5a5a" stroke-width="0.6" stroke-linejoin="round" />
<line x1="542.1" y1="259.5" x2="539.2" y2="293.0" stroke="#444" stroke-width="0.5" />
<path d="M539.2,293.0 L540.6,290.5 L538.3,290.3 Z" fill="#444"/>
<line x1="539.6" y1="312.0" x2="538.4" y2="317.5" stroke="#444" stroke-width="0.4" />
<path d="M538.4,317.5 L539.6,315.9 L538.0,315.6 Z" fill="#444"/>
<line x1="533.5" y1="343.5" x2="532.3" y2="347.5" stroke="#444" stroke-width="0.4" />
<path d="M532.3,347.5 L533.4,346.2 L532.1,345.8 Z" fill="#444"/>
<path d="M527.5,259.3 L513.5,262.3" fill="none" stroke="#5a5a5a" stroke-width="0.45" stroke-linejoin="round" />
<line x1="527.5" y1="261.2" x2="512.9" y2="264.0" stroke="#444" stroke-width="0.45" />
<path d="M512.9,264.0 L515.2,264.6 L514.9,262.6 Z" fill="#444"/>
<line x1="550.5" y1="310.0" x2="561.5" y2="310.0" stroke="#9a9a9a" stroke-width="0.7" />
<path d="M563.9,255.2 L574.6,256.0 L575.9,256.6 L586.1,260.0 L605.8,266.3 L615.7,269.2 L619.7,272.5 L625.8,277.4 L633.2,278.6 L635.0,275.5 L636.9,272.5 L646.7,272.5 L650.4,275.5 L655.3,279.2 L660.2,281.7 L663.9,284.7 L666.3,287.2 L667.0,294.6 L667.0,306.9 L665.1,314.2 L662.7,320.0 L660.9,329.1 L655.3,334.7 L651.0,343.2 L639.7,348.9 L625.6,351.7 L611.5,353.1 L597.4,355.9 L586.1,353.1 L580.4,346.0 L577.6,334.7 L576.2,320.6 L573.4,306.5 L570.5,292.4 L567.7,278.2 L564.9,264.1 Z" fill="#fff" stroke="#5a5a5a" stroke-width="0.75" stroke-linejoin="round" />
<path d="M565.3,258.6 L613.0,272.7 L620.0,275.0" fill="none" stroke="#5a5a5a" stroke-width="0.6" stroke-linejoin="round" />
<line x1="600.0" y1="266.8" x2="616.2" y2="271.9" stroke="#444" stroke-width="0.3" />
<path d="M616.2,271.9 L614.1,270.0 L613.4,272.2 Z" fill="#444"/>
<path d="M638.1,287.8 L639.3,286.6 L646.7,285.4 L656.5,284.1 L659.0,282.3" fill="none" stroke="#5a5a5a" stroke-width="0.7" stroke-linejoin="round" />
<path d="M638.1,287.8 L640.5,306.2 L667.0,307.5" fill="none" stroke="#5a5a5a" stroke-width="0.7" stroke-linejoin="round" />
<path d="M640.5,306.2 L635.6,308.1 L628.3,313.0 L621.4,317.8 L628.4,320.6 L662.0,322.9" fill="none" stroke="#5a5a5a" stroke-width="0.7" stroke-linejoin="round" />
<path d="M577.6,331.9 L597.4,326.3 L611.5,322.0 L621.4,317.8" fill="none" stroke="#5a5a5a" stroke-width="0.5" stroke-linejoin="round" />
<line x1="636.9" y1="296.6" x2="574.8" y2="293.8" stroke="#666" stroke-width="0.75" stroke-dasharray="3.2,2.4"/>
<path d="M574.8,293.8 L577.9,295.4 L578.1,292.5 Z" fill="#666"/>
<line x1="663.8" y1="295.2" x2="642.6" y2="298.6" stroke="#666" stroke-width="0.75" stroke-dasharray="3.2,2.4"/>
<path d="M642.6,298.6 L646.0,299.5 L645.5,296.7 Z" fill="#666"/>
<line x1="662.3" y1="315.0" x2="627.0" y2="317.2" stroke="#666" stroke-width="0.75" stroke-dasharray="3.2,2.4"/>
<path d="M627.0,317.2 L630.3,318.4 L630.1,315.6 Z" fill="#666"/>
<line x1="655.3" y1="331.4" x2="584.7" y2="340.4" stroke="#666" stroke-width="0.75" stroke-dasharray="3.2,2.4"/>
<path d="M584.7,340.4 L588.1,341.4 L587.7,338.6 Z" fill="#666"/>
<!-- legend -->
<rect x="291" y="199.3" width="15.6" height="16.6" fill="#1B9E77" stroke="#1a1a1a" stroke-width="1"/>
<rect x="291" y="215.9" width="15.6" height="16.6" fill="#D95F02" stroke="#1a1a1a" stroke-width="1"/>
<text x="312.5" y="210.2" class="lg" textLength="20.03" lengthAdjust="spacingAndGlyphs">Flake</text>
<text x="312.5" y="227.4" class="lg" textLength="50.53" lengthAdjust="spacingAndGlyphs">BladeBladelet</text>
<!-- bracket -->
<path d="M65.6,350 V357.5 Q65.6,360 68,360 H132 Q134.6,360 134.6,362.5 V369.5 M134.6,362.5 Q134.6,360 137,360 H202.5 Q205,360 205,357.5 V350" fill="none" stroke="#4472C4" stroke-width="1.8"/>
<text x="123.3" y="386.2" class="cal" font-size="14.8" font-weight="700" fill="#000" textLength="22.05" lengthAdjust="spacingAndGlyphs">LSA</text>
<text x="232.8" y="362.8" class="cal" font-size="14.8" font-weight="700" fill="#000" textLength="28.72" lengthAdjust="spacingAndGlyphs">MSA</text>
<text x="524.5" y="179.9" class="cal" font-size="20" font-weight="700" fill="#000" text-anchor="middle" textLength="38.81" lengthAdjust="spacingAndGlyphs">MSA</text>
<text x="524" y="205.6" class="cal" font-size="20" font-weight="700" fill="#000" text-anchor="middle" textLength="34.33" lengthAdjust="spacingAndGlyphs">(BP)</text>
<text x="510.5" y="391.1" class="cal" font-size="13.4" font-weight="700" fill="#000" textLength="183.14" lengthAdjust="spacingAndGlyphs">Illustrations by Armando Falcucci</text>
<path d="M655.5,392.6 L657.0,392.0 L658.5,392.9 L660.0,392.0 L661.5,392.9 L663.0,392.0 L664.5,392.9 L666.0,392.0 L667.5,392.9 L669.0,392.0 L670.5,392.9 L672.0,392.0 L673.5,392.9 L675.0,392.0 L676.5,392.9 L678.0,392.0 L679.5,392.9 L681.0,392.0 L682.5,392.9 L684.0,392.0 L685.5,392.9 L687.0,392.0 L688.5,392.9 L690.0,392.0 L691.5,392.9 L693.0,392.0" fill="none" stroke="#D96A6A" stroke-width="0.5" opacity="0.55"/>
<!-- ventral/cortex legend -->
<rect x="614" y="210.3" width="12.5" height="12" fill="#BCC9E2" stroke="#A9B7D3" stroke-width="0.6"/>
<rect x="614" y="226" width="12.5" height="12.5" fill="#FBFBFB" stroke="#9a9a9a" stroke-width="0.7"/>
<text x="629" y="219.7" class="cal" font-size="10" letter-spacing="-0.2" fill="#111" textLength="45.75" lengthAdjust="spacingAndGlyphs">Ventral face</text>
<text x="629" y="235" class="cal" font-size="10" fill="#111" textLength="26.50" lengthAdjust="spacingAndGlyphs">Cortex</text>
</svg>
</body></html>
